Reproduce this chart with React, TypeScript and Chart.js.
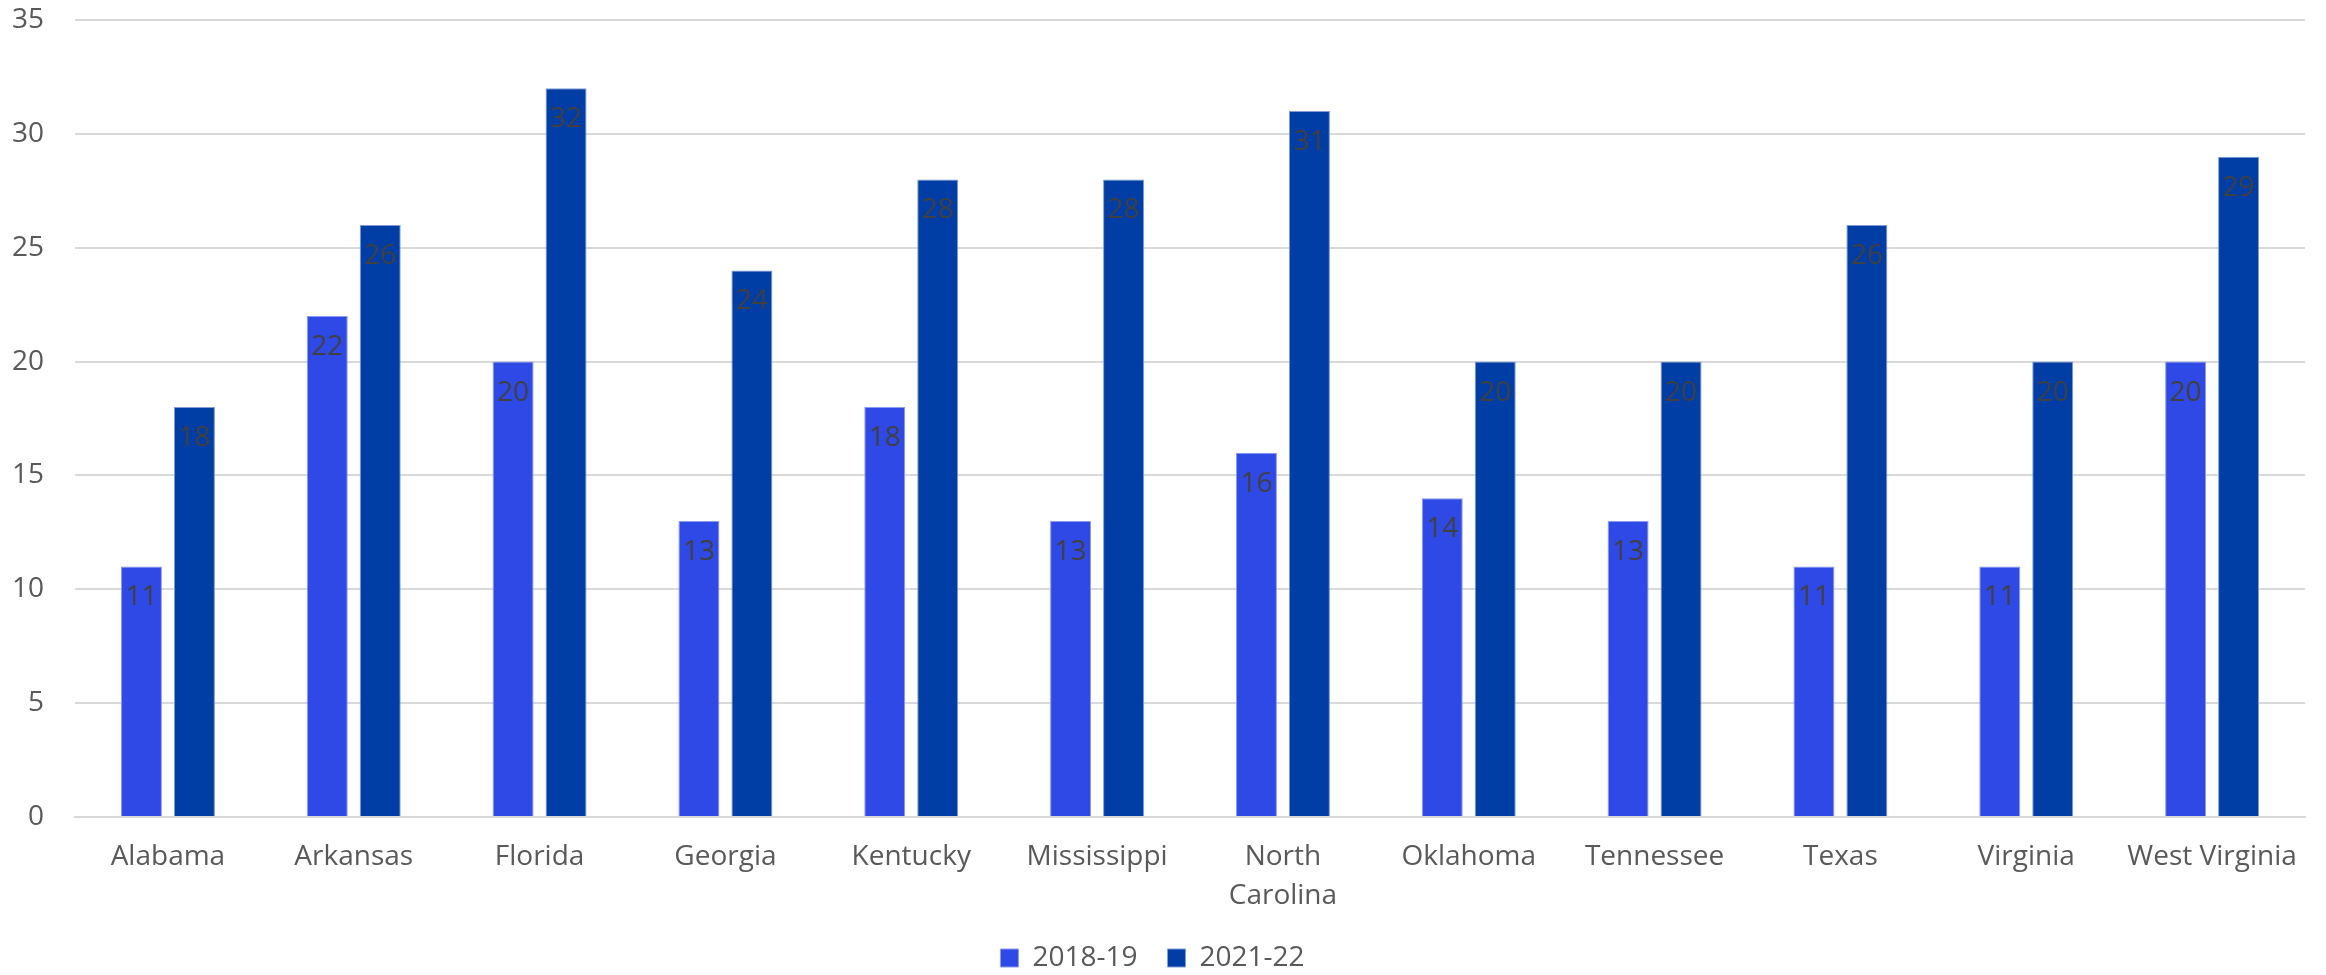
import React, { useEffect, useRef } from "react";
import { Chart, registerables } from "chart.js";

Chart.register(...registerables);

const categories: (string | string[])[] = [
  "Alabama", "Arkansas", "Florida", "Georgia", "Kentucky", "Mississippi",
  ["North", "Carolina"], "Oklahoma", "Tennessee", "Texas", "Virginia", "West Virginia",
];
const series2018: number[] = [11, 22, 20, 13, 18, 13, 16, 14, 13, 11, 11, 20];
const series2021: number[] = [18, 26, 32, 24, 28, 28, 31, 20, 20, 26, 20, 29];
const seriesNames = ["2018-19", "2021-22"];

const FONT = "'Open Sans', sans-serif";
const FS = 28;

const labelPlugin = {
  id: "barLabels",
  afterDatasetsDraw(chart: any) {
    const ctx = chart.ctx;
    ctx.save();
    ctx.font = `${FS}px ${FONT}`;
    ctx.fillStyle = "#404040";
    ctx.textAlign = "center";
    ctx.textBaseline = "middle";
    chart.data.datasets.forEach((ds: any, i: number) => {
      const meta = chart.getDatasetMeta(i);
      meta.data.forEach((el: any, j: number) => {
        ctx.fillText(String(ds.data[j]), el.x, el.y + 31);
      });
    });
    ctx.restore();
  },
};

export default function App() {
  const ref = useRef<HTMLCanvasElement>(null);
  useEffect(() => {
    document.body.style.margin = "0";
    const chart = new Chart(ref.current!, {
      type: "bar",
      data: {
        labels: categories,
        datasets: [
          {
            label: seriesNames[0],
            data: series2018,
            backgroundColor: "#2F49E6",
            borderColor: "#8A9BF0",
            borderWidth: 1,
            categoryPercentage: 0.57,
            barPercentage: 0.774,
          },
          {
            label: seriesNames[1],
            data: series2021,
            backgroundColor: "#003DA5",
            borderColor: "#7F9BD8",
            borderWidth: 1,
            categoryPercentage: 0.57,
            barPercentage: 0.774,
          },
        ],
      },
      options: {
        responsive: false,
        animation: false,
        layout: { padding: { top: 20, right: 21, left: 0, bottom: -7 } },
        plugins: {
          tooltip: { enabled: false },
          legend: {
            position: "bottom",
            labels: {
              boxWidth: 18,
              boxHeight: 18,
              padding: 30,
              color: "#595959",
              font: { family: FONT, size: FS },
            },
          },
        },
        scales: {
          x: {
            grid: { display: false, drawTicks: false },
            border: { display: true, color: "#D9D9D9", width: 2 },
            ticks: {
              color: "#595959",
              font: { family: FONT, size: FS, lineHeight: 1.4 },
              padding: 20,
              maxRotation: 0,
              autoSkip: false,
            },
            afterFit: (s: any) => { s.height = 97; },
          },
          y: {
            min: 0,
            max: 35,
            ticks: {
              stepSize: 5,
              color: "#595959",
              font: { family: FONT, size: FS },
              padding: 31,
            },
            grid: { color: "#D9D9D9", lineWidth: 2, drawTicks: false },
            border: { display: false },
            afterFit: (s: any) => { s.width = 75; s.paddingTop = 0; s.paddingBottom = 0; },
          },
        },
      },
      plugins: [labelPlugin],
    });
    return () => chart.destroy();
  }, []);
  return (
    <div style={{ width: 2326, height: 975 }}>
      <canvas ref={ref} width={2326} height={975} style={{ display: "block" }} />
    </div>
  );
}
